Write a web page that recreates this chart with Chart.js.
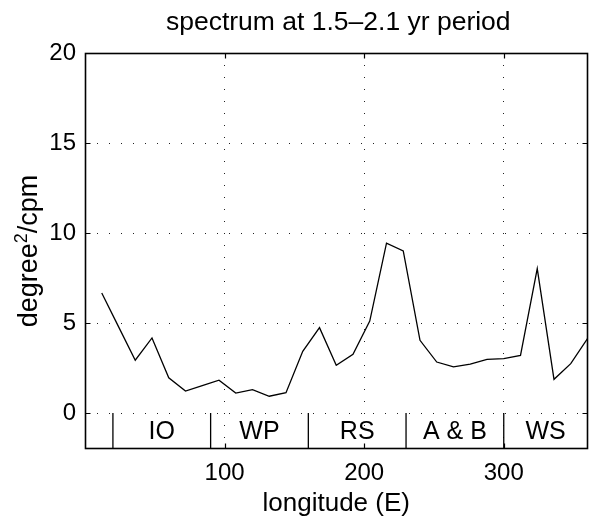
<!DOCTYPE html>
<html>
<head>
<meta charset="utf-8">
<script src="https://cdn.jsdelivr.net/npm/chart.js@4"></script>
<style>
  html, body { margin: 0; padding: 0; background: #fff; }
  #wrap { width: 589px; height: 528px; }
</style>
</head>
<body>
<div id="wrap"><canvas id="chart"></canvas></div>
<script>
// values
const longitudes = [12, 24, 36, 48, 60, 72, 84, 96, 108, 120, 132, 144, 156, 168, 180,
                    192, 204, 216, 228, 240, 252, 264, 276, 288, 300, 312, 324, 336, 348, 360];
const spectrum = [6.67, 4.8, 2.93, 4.17, 1.96, 1.22, 1.52, 1.82, 1.11, 1.30, 0.93, 1.13, 3.43, 4.74, 2.65,
                  3.26, 5.11, 9.44, 9.00, 4.04, 2.83, 2.56, 2.72, 2.98, 3.02, 3.20, 8.02, 1.87, 2.74, 4.13];
const regionEdges = [20, 90, 160, 230, 300];
const regionNames = ['IO', 'WP', 'RS', 'A & B', 'WS'];
const regionCenters = [55, 125, 195, 265, 330];
const xTicks = [100, 200, 300];
const yTicks = [0, 5, 10, 15, 20];

const FONT = "'Liberation Sans', Arial, Helvetica, sans-serif";

const datasets = [{
  data: longitudes.map((x, i) => ({ x: x, y: spectrum[i] })),
  borderColor: '#000',
  borderWidth: 1.3,
  pointRadius: 0,
  tension: 0
}];
// region separators along the bottom band
regionEdges.forEach(x => {
  datasets.push({
    data: [{ x: x, y: -2 }, { x: x, y: 0 }],
    borderColor: '#000',
    borderWidth: 1.3,
    pointRadius: 0
  });
});

const decorations = {
  id: 'decorations',
  afterDatasetsDraw(chart) {
    const ctx = chart.ctx;
    const xs = chart.scales.x, ys = chart.scales.y;
    ctx.save();
    ctx.fillStyle = '#000';
    ctx.font = '25px ' + FONT;
    ctx.textAlign = 'center';
    ctx.textBaseline = 'middle';
    regionNames.forEach((name, i) => {
      ctx.fillText(name, xs.getPixelForValue(regionCenters[i]), ys.getPixelForValue(-1) + 1);
    });
    ctx.restore();
  },
  afterDraw(chart) {
    const ctx = chart.ctx;
    const a = chart.chartArea;
    const xs = chart.scales.x, ys = chart.scales.y;
    const L = Math.round(a.left) + 0.5, R = Math.round(a.right) - 0.5;
    const T = Math.round(a.top) + 0.5, B = Math.round(a.bottom) - 0.5;
    ctx.save();
    ctx.strokeStyle = '#000';
    ctx.lineWidth = 1.6;
    ctx.strokeRect(L, T, R - L, B - T);
    // inward tick marks
    ctx.lineWidth = 1.2;
    ctx.beginPath();
    xTicks.forEach(v => {
      const px = Math.round(xs.getPixelForValue(v)) + 0.5;
      ctx.moveTo(px, B); ctx.lineTo(px, B - 5);
      ctx.moveTo(px, T); ctx.lineTo(px, T + 5);
    });
    yTicks.forEach(v => {
      const py = Math.round(ys.getPixelForValue(v)) + 0.5;
      ctx.moveTo(L, py); ctx.lineTo(L + 5, py);
      ctx.moveTo(R, py); ctx.lineTo(R - 5, py);
    });
    ctx.stroke();

    // title, centred over the axes
    ctx.fillStyle = '#000';
    ctx.font = '26.5px ' + FONT;
    ctx.textAlign = 'center';
    ctx.textBaseline = 'middle';
    ctx.fillText('spectrum at 1.5\u20132.1 yr period', (a.left + a.right) / 2 + 2, 23);

    // y label with superscript
    ctx.translate(37, (a.top + a.bottom) / 2);
    ctx.rotate(-Math.PI / 2);
    ctx.textBaseline = 'alphabetic';
    ctx.textAlign = 'left';
    const big = '27px ' + FONT, small = '18px ' + FONT;
    ctx.font = big;
    const w1 = ctx.measureText('degree').width;
    const w3 = ctx.measureText('/cpm').width;
    ctx.font = small;
    const w2 = ctx.measureText('2').width;
    let x0 = -(w1 + w2 + w3) / 2;
    ctx.font = big;
    ctx.fillText('degree', x0, 0);
    ctx.font = small;
    ctx.fillText('2', x0 + w1, -10);
    ctx.font = big;
    ctx.fillText('/cpm', x0 + w1 + w2, 0);
    ctx.restore();
  }
};

new Chart(document.getElementById('chart'), {
  type: 'line',
  data: { datasets: datasets },
  options: {
    responsive: true,
    maintainAspectRatio: false,
    animation: false,
    layout: { padding: { top: 53, right: 1.5, left: 0, bottom: 0 } },
    plugins: { legend: { display: false }, tooltip: { enabled: false }, title: { display: false } },
    scales: {
      x: {
        type: 'linear',
        min: 0,
        max: 360,
        afterBuildTicks(s) { s.ticks = xTicks.map(v => ({ value: v })); },
        afterFit(s) { s.height = 79; },
        grid: { color: '#222', lineWidth: 1, drawTicks: false },
        border: { display: false, dash: [1, 11] },
        ticks: { color: '#000', padding: 12, font: { family: FONT, size: 24, lineHeight: 1 }, maxRotation: 0 },
        title: {
          display: true,
          text: 'longitude (E)',
          color: '#000',
          font: { family: FONT, size: 26, lineHeight: 1 },
          padding: { top: 0, bottom: 11 }
        }
      },
      y: {
        type: 'linear',
        min: -2,
        max: 20,
        afterBuildTicks(s) { s.ticks = yTicks.map(v => ({ value: v })); },
        afterFit(s) { s.width = 85; },
        grid: { color: '#222', lineWidth: 1, drawTicks: false },
        border: { display: false, dash: [1, 11] },
        ticks: { color: '#000', padding: 9, font: { family: FONT, size: 24, lineHeight: 1 } }
      }
    }
  },
  plugins: [decorations]
});
</script>
</body>
</html>
